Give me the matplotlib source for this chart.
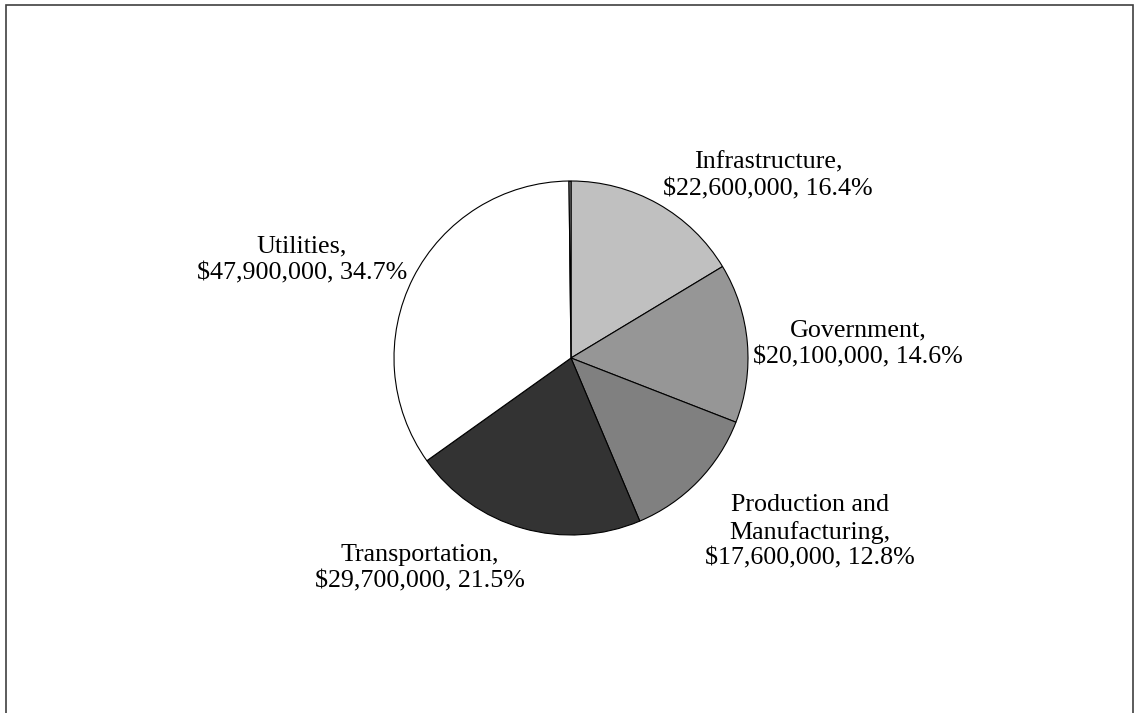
import matplotlib
matplotlib.use("Agg")
import matplotlib.pyplot as plt
from matplotlib.patches import Rectangle

# Contract value by sector, in millions of dollars (clockwise from 12 o'clock)
sectors = ["Infrastructure", "Government", "Production and\nManufacturing",
           "Transportation", "Utilities", ""]
values = [22.6, 20.1, 17.6, 29.7, 47.9, 0.25]
dollars = ["$22,600,000", "$20,100,000", "$17,600,000", "$29,700,000", "$47,900,000", ""]
percents = ["16.4%", "14.6%", "12.8%", "21.5%", "34.7%", ""]
colors = ["#c0c0c0", "#969696", "#808080", "#333333", "#ffffff", "#a0a0a0"]

# label anchor positions (pixels from the top-left corner of the canvas)
label_xy = [(768, 176), (858, 344), (810, 532), (420, 568), (302, 260), None]

W, H = 1139, 713
fig = plt.figure(figsize=(W / 100, H / 100), dpi=100)
ax = fig.add_axes([0, 0, 1, 1])

ax.pie(values, colors=colors, startangle=90, counterclock=False,
       center=(571, H - 358), radius=177,
       wedgeprops=dict(edgecolor="black", linewidth=0.8))

for name, d, p, xy in zip(sectors, dollars, percents, label_xy):
    if xy is None:
        continue
    ax.text(xy[0], H - xy[1], f"{name},\n{d}, {p}", ha="center", va="center",
            fontsize=18.7, family="Liberation Serif", linespacing=1.25,
            color="black")

ax.set_xlim(0, W)
ax.set_ylim(0, H)
ax.set_aspect("equal")
ax.axis("off")

# chart area frame
ax.add_patch(Rectangle((6, -50), 1127, H - 5 + 50, fill=False,
                       edgecolor="#404040", linewidth=1.2, clip_on=False))

fig.savefig("out.png", dpi=100)
